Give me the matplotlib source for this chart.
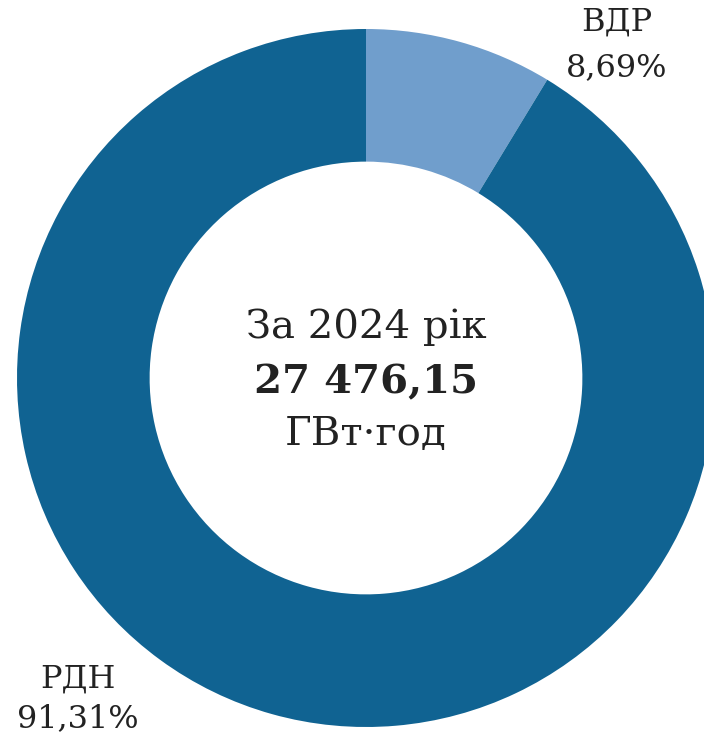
import matplotlib
matplotlib.use('Agg')
import matplotlib.pyplot as plt

labels = ['ВДР', 'РДН']
shares = [8.69, 91.31]
pct_text = ['8,69%', '91,31%']
colors = ['#709ecc', '#106392']
year_line = 'За 2024 рік'
total_line = '27 476,15'
unit_line = 'ГВт·год'

W, H = 704, 740
fig = plt.figure(figsize=(W / 100, H / 100), dpi=100)
ax = fig.add_axes([0, 0, 1, 1])
ax.set_xlim(0, W)
ax.set_ylim(0, H)
ax.set_aspect('equal')
ax.axis('off')

cx, cy, r = 366, H - 378, 349
ax.pie(shares, colors=colors, startangle=90, counterclock=False,
       center=(cx, cy), radius=r, frame=True,
       wedgeprops=dict(width=r * 0.38, linewidth=0))
ax.set_xlim(0, W)
ax.set_ylim(0, H)
ax.axis('off')

font = 'DejaVu Serif'
# segment labels
ax.text(617, H - 22, labels[0], ha='center', va='center', fontsize=23, family=font, color='#222222')
ax.text(617, H - 68, pct_text[0], ha='center', va='center', fontsize=23, family=font, color='#222222')
ax.text(78, H - 679, labels[1], ha='center', va='center', fontsize=23, family=font, color='#222222')
ax.text(78, H - 719, pct_text[1], ha='center', va='center', fontsize=23, family=font, color='#222222')

# centre text
ax.text(cx, H - 327, year_line, ha='center', va='center', fontsize=29, family=font, color='#222222')
ax.text(cx, H - 382, total_line, ha='center', va='center', fontsize=29, family=font,
        fontweight='bold', color='#222222')
ax.text(cx, H - 435, unit_line, ha='center', va='center', fontsize=29, family=font, color='#222222')

plt.savefig('out.png', dpi=100)
